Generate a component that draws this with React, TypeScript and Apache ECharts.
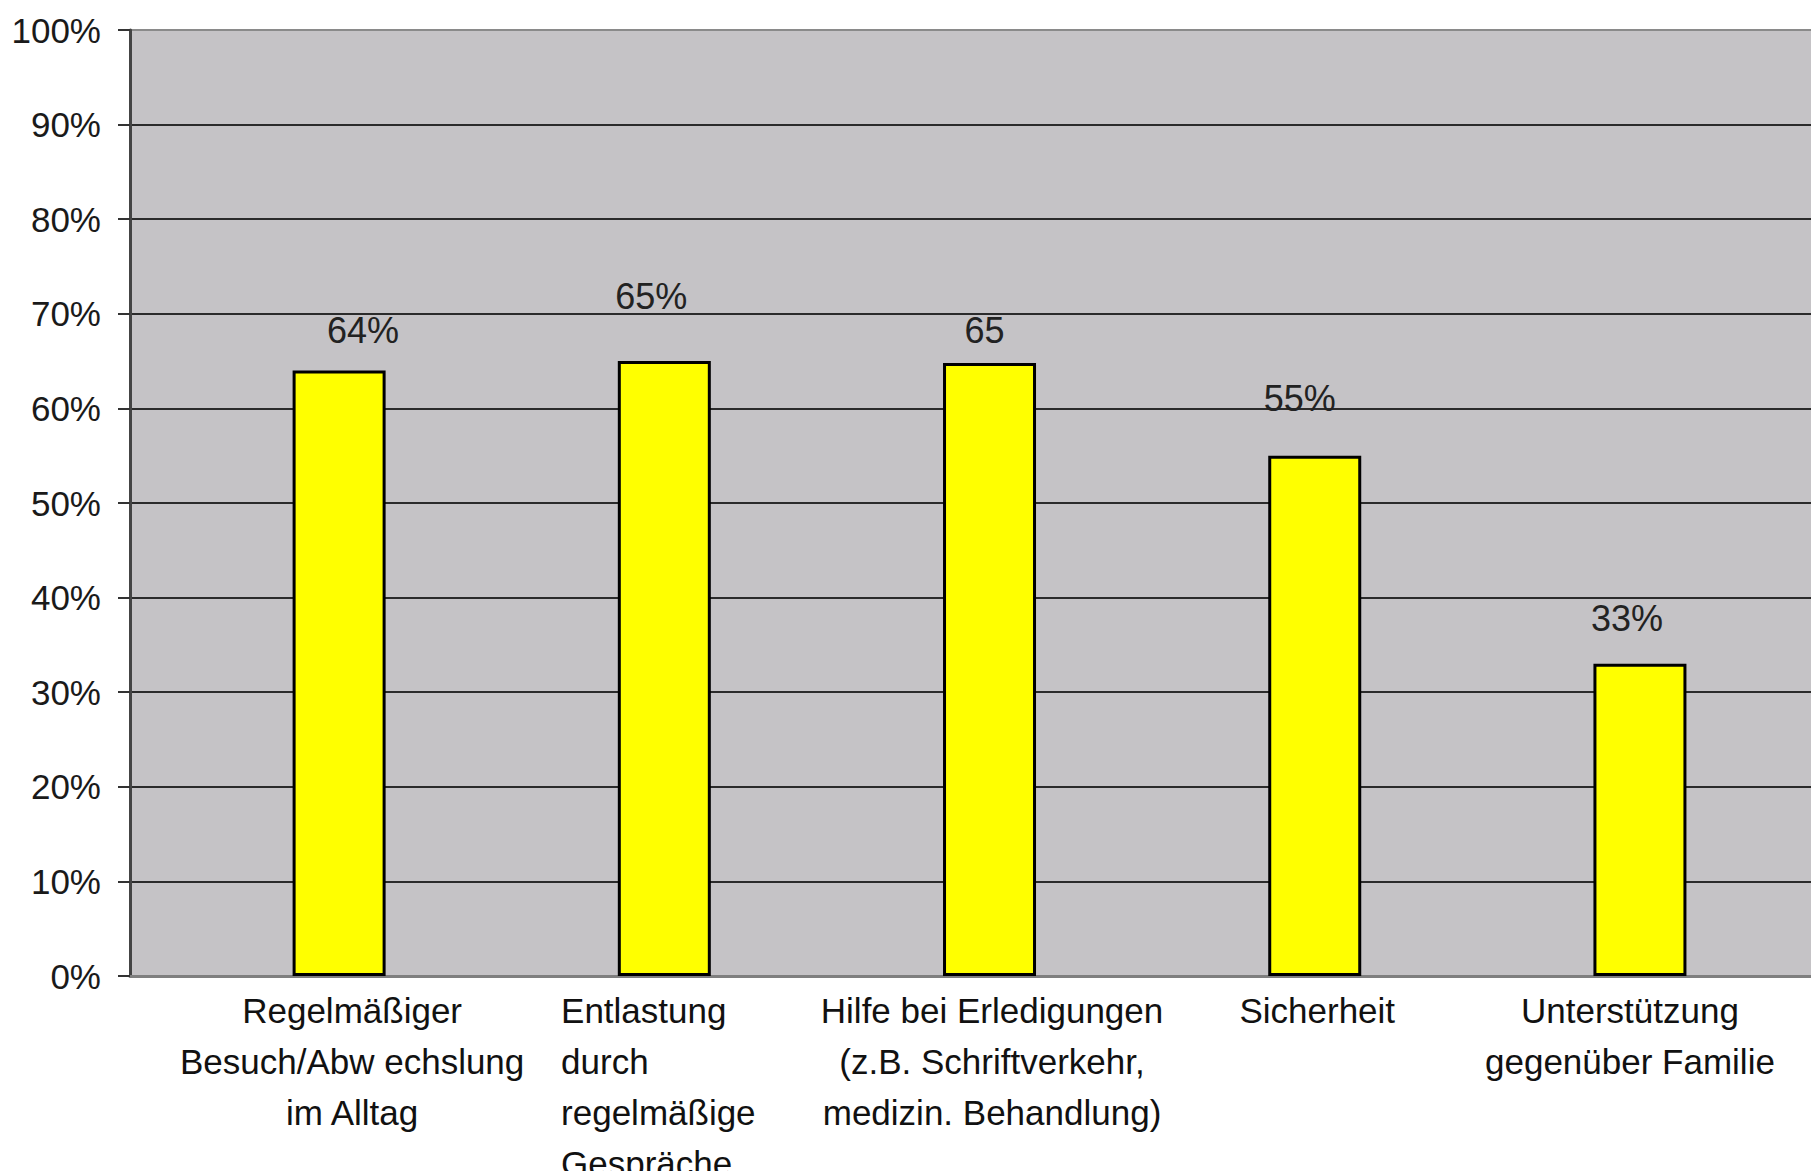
import React, { useEffect, useRef } from "react";
import * as echarts from "echarts";

const categories: string[][] = [
  ["Regelmäßiger", "Besuch/Abw echslung", "im Alltag"],
  ["Entlastung", "durch", "regelmäßige", "Gespräche"],
  ["Hilfe bei Erledigungen", "(z.B. Schriftverkehr,", "medizin. Behandlung)"],
  ["Sicherheit"],
  ["Unterstützung", "gegenüber Familie"],
];
const values: number[] = [64, 65, 64.8, 55, 33];
const valueLabels: string[] = ["64%", "65%", "65", "55%", "33%"];
const yTicks: number[] = [0, 10, 20, 30, 40, 50, 60, 70, 80, 90, 100];

// styling (not data)
const labelOffsets: number[][] = [
  [24, -22],
  [-13, -47],
  [-5, -14],
  [-15, -39],
  [-13, -27],
];
const catLabelStyle: string[] = ["a", "b", "c", "c", "e"];

const FONT = "'Liberation Sans', Arial, sans-serif";
const CAT_FS = 35;

export default function App() {
  const ref = useRef<HTMLDivElement>(null);
  useEffect(() => {
    if (!ref.current) return;
    const chart = echarts.init(ref.current, undefined, { renderer: "svg" });
    const gridColors = yTicks.map((t, i) =>
      i === 0 ? "#7f7f7f" : i === yTicks.length - 1 ? "#8a8a8a" : "#2b2b2b"
    );
    const base = { fontFamily: FONT, fontSize: CAT_FS, color: "#111", lineHeight: 51 };
    chart.setOption({
      animation: false,
      backgroundColor: "#ffffff",
      grid: {
        left: 130,
        right: 0,
        top: 30,
        bottom: 195,
        show: true,
        backgroundColor: "#c5c3c6",
        borderWidth: 0,
        outerBoundsMode: "none",
        containLabel: false,
      },
      xAxis: {
        type: "value",
        min: -0.643,
        max: 4.526,
        axisLine: { show: true, onZero: false, lineStyle: { color: "#7f7f7f", width: 3 } },
        axisTick: { show: false },
        splitLine: { show: false },
        axisLabel: {
          customValues: [0, 1, 2, 3, 4],
          margin: 9,
          ...base,
          formatter: (v: number) => {
            const i = Math.round(v);
            const lines = categories[i] || [];
            const key = catLabelStyle[i];
            return lines.map((l) => `{${key}|${l}}`).join("\n");
          },
          rich: {
            a: { ...base, align: "center", padding: [0, 0, 0, 26] },
            b: { ...base, align: "left", padding: [0, 12, 0, 0] },
            c: { ...base, align: "center", padding: [0, 0, 0, 5] },
            e: { ...base, align: "center", padding: [0, 20, 0, 0] },
          },
        },
      },
      yAxis: {
        type: "value",
        min: 0,
        max: 100,
        interval: 10,
        axisLine: { show: true, onZero: false, lineStyle: { color: "#444", width: 3 } },
        axisTick: { show: true, length: 12, lineStyle: { color: "#333", width: 2 } },
        axisLabel: {
          formatter: "{value}%",
          margin: 29,
          fontFamily: FONT,
          fontSize: 35,
          color: "#1a1a1a",
        },
        splitLine: { show: true, lineStyle: { color: gridColors, width: 2 } },
      },
      series: [
        {
          type: "bar",
          barWidth: 93,
          itemStyle: { color: "#ffff00", borderColor: "#000", borderWidth: 3 },
          label: {
            show: true,
            position: "top",
            distance: 0,
            fontFamily: FONT,
            fontSize: 36,
            lineHeight: 36,
            color: "#222",
            formatter: (p: any) => valueLabels[p.dataIndex],
          },
          data: values.map((v, i) => ({
            value: [i, v],
            label: { offset: labelOffsets[i] },
          })),
        },
      ],
    });
    return () => chart.dispose();
  }, []);
  return (
    <div
      ref={ref}
      style={{ position: "absolute", left: 0, top: 0, width: 1811, height: 1171 }}
    />
  );
}
